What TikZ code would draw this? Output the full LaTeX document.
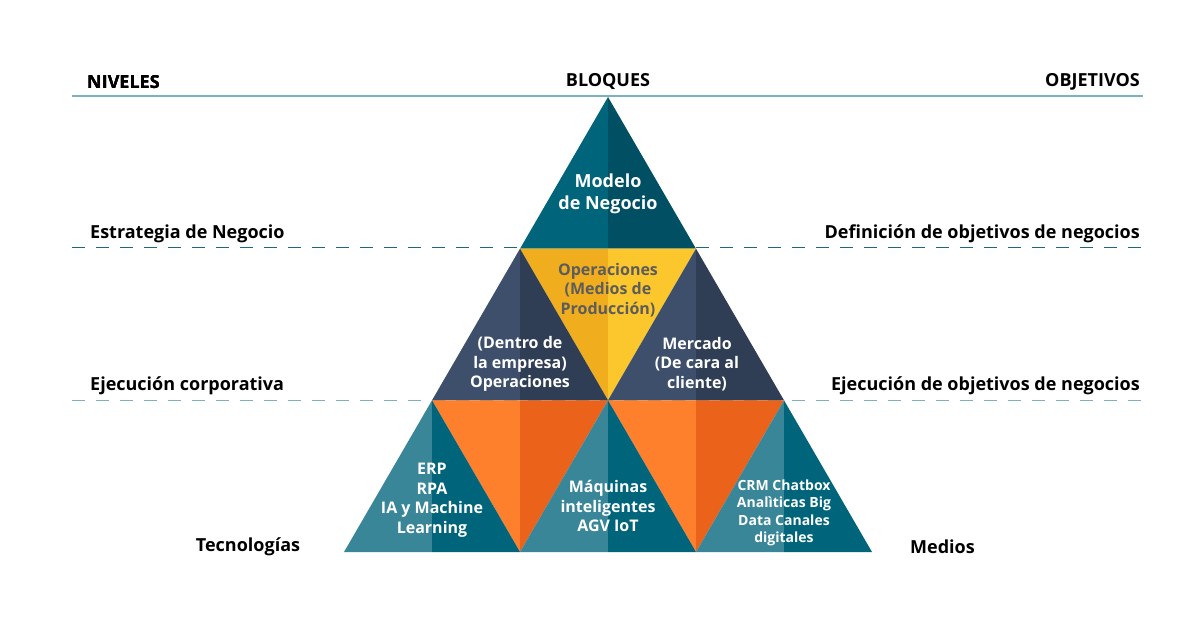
\documentclass[tikz,border=0pt]{standalone}
\usepackage{fontspec}
\setmainfont{Open Sans}
\definecolor{azulA}{HTML}{00657B}
\definecolor{azulB}{HTML}{004F63}
\definecolor{amarA}{HTML}{F0AE1E}
\definecolor{amarB}{HTML}{FCC62D}
\definecolor{pizA}{HTML}{3D4F6B}
\definecolor{pizB}{HTML}{2F3E54}
\definecolor{narA}{HTML}{FE7F2C}
\definecolor{narB}{HTML}{EB631A}
\definecolor{turA}{HTML}{3A8699}
\definecolor{turB}{HTML}{00647A}
\definecolor{lineaC}{HTML}{7EB1BE}
\definecolor{lineaO}{HTML}{1D6A80}
\definecolor{grisT}{HTML}{5C5C5C}
% triangulo hacia arriba: centro, y sup, y inf, color izq, color der
\newcommand{\trisup}[5]{%
  \fill[#4] (#1,#2) -- (#1-88,#3) -- (#1,#3) -- cycle;
  \fill[#5] (#1,#2) -- (#1,#3) -- (#1+88,#3) -- cycle;}
% triangulo invertido
\newcommand{\triinv}[5]{%
  \fill[#4] (#1-88,#2) -- (#1,#2) -- (#1,#3) -- cycle;
  \fill[#5] (#1,#2) -- (#1+88,#2) -- (#1,#3) -- cycle;}
\tikzset{
  titulo/.style={font=\bfseries\fontsize{18}{21}\selectfont, text=black, inner sep=0pt},
  bloque/.style={font=\bfseries\fontsize{16}{19.5}\selectfont, text=white, align=center, inner sep=0pt},
  grande/.style={font=\bfseries\fontsize{18}{22}\selectfont, text=white, align=center, inner sep=0pt},
  chico/.style={font=\bfseries\fontsize{14}{17.5}\selectfont, text=white, align=center, inner sep=0pt},
  guia/.style={line width=1.6pt, dash pattern=on 13pt off 11pt}
}
\begin{document}
\begin{tikzpicture}[x=1pt, y=-1pt]
  \useasboundingbox (0,0) rectangle (1200,628);
  % Lineas
  \draw[lineaC, line width=2pt] (72,96) -- (1143,96);
  \draw[guia, lineaO] (72,247.5) -- (1143,247.5);
  \draw[guia, lineaC] (72,400.5) -- (1143,400.5);
  % Piramide
  \trisup{608}{97}{248.7}{azulA}{azulB}
  \triinv{608}{248.7}{400.3}{amarA}{amarB}
  \trisup{520}{248.7}{400.3}{pizA}{pizB}
  \trisup{696}{248.7}{400.3}{pizA}{pizB}
  \triinv{520}{400.3}{552}{narA}{narB}
  \triinv{696}{400.3}{552}{narA}{narB}
  \foreach \cx in {432,608,784}
    \trisup{\cx}{400.3}{552}{turA}{turB}
  % Encabezados
  \node[titulo, anchor=west] (niveles) at (87,82) {NIVELES};
  \node[titulo] (bloques) at (608,82) {BLOQUES};
  \node[titulo, anchor=east] (objetivos) at (1140,82) {OBJETIVOS};
  % Niveles y objetivos
  \node[titulo, anchor=west] (estrategia) at (90,234) {Estrategia de Negocio};
  \node[titulo, anchor=east] (definicion) at (1140,234) {Definición de objetivos de negocios};
  \node[titulo, anchor=west] (ejecucion) at (90,386) {Ejecución corporativa};
  \node[titulo, anchor=east] (ejecobj) at (1140,386) {Ejecución de objetivos de negocios};
  \node[titulo] (tecnologias) at (248,547) {Tecnologías};
  \node[titulo, anchor=west] (medios) at (910,547) {Medios};
  % Bloques
  \node[grande] (modelo) at (608,194) {Modelo\\de Negocio};
  \node[bloque, text=grisT] (produccion) at (608,290) {Operaciones\\(Medios de\\Producción)};
  \node[bloque] (dentro) at (520,364) {(Dentro de\\la empresa)\\Operaciones};
  \node[bloque] (mercado) at (697,364) {Mercado\\(De cara al\\cliente)};
  \node[bloque] (erp) at (432,500) {ERP\\RPA\\IA y Machine\\Learning};
  \node[bloque] (maquinas) at (608,506) {Máquinas\\inteligentes\\AGV IoT};
  \node[chico] (crm) at (784,513) {CRM Chatbox\\Analìticas Big\\Data Canales\\digitales};
\end{tikzpicture}
\end{document}
